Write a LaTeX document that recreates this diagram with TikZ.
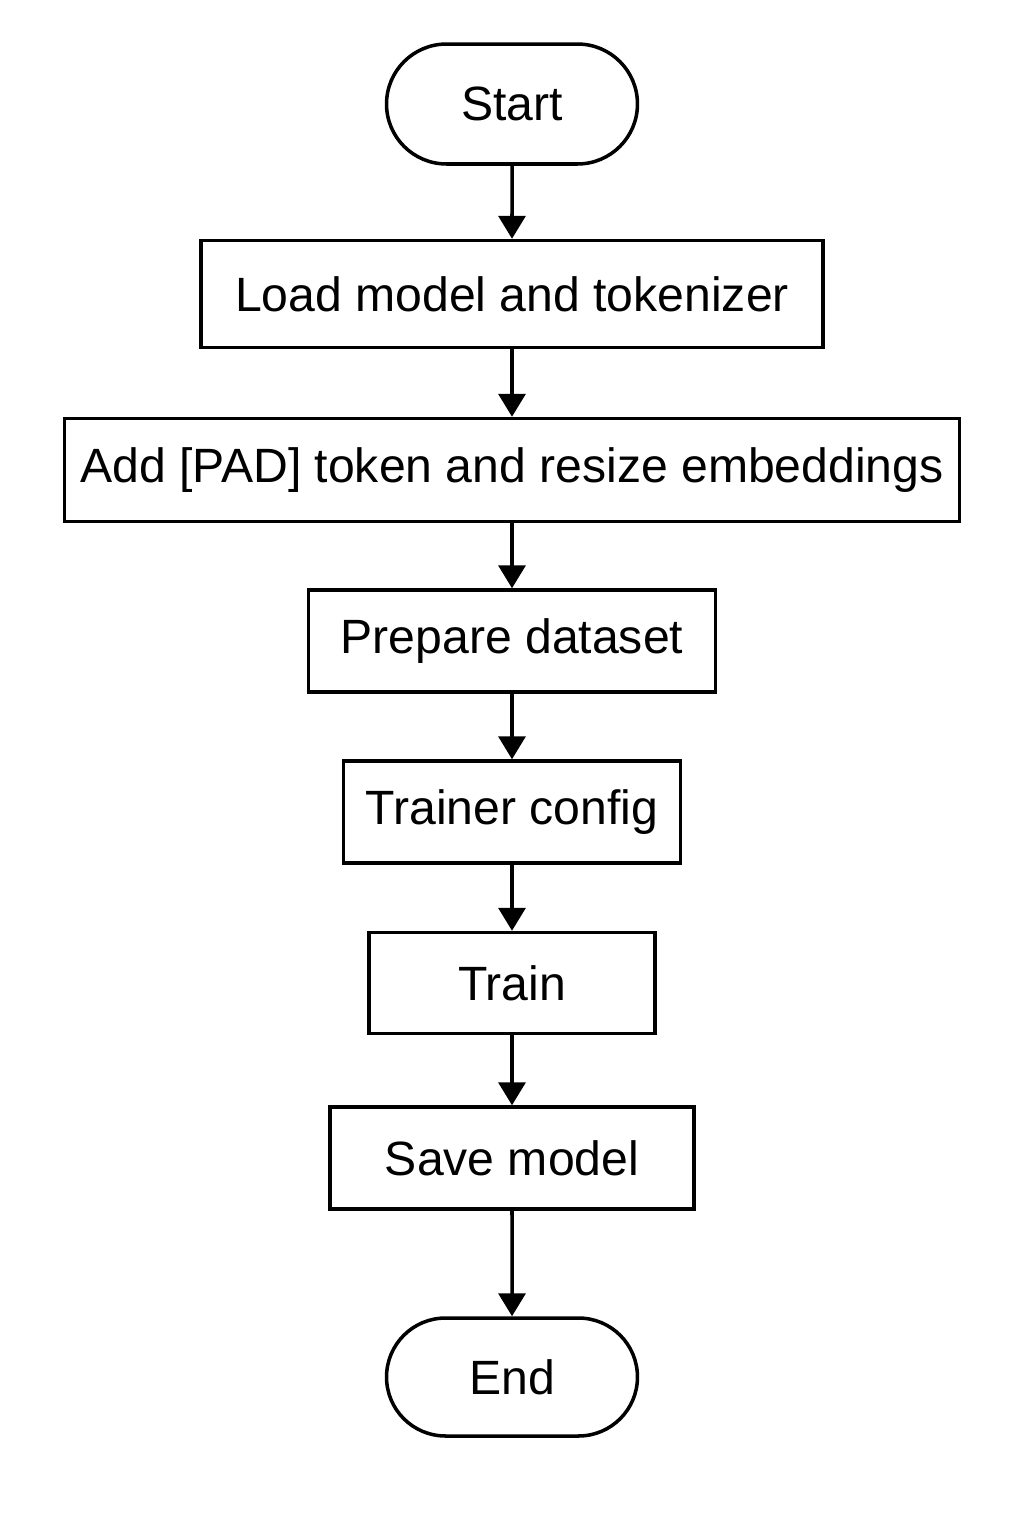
\documentclass[tikz,border=0pt]{standalone}
\usepackage{fontspec}
\setmainfont{Liberation Sans}
\usetikzlibrary{arrows.meta,shapes.misc}
\begin{document}
\begin{tikzpicture}[x=0.02cm,y=-0.02cm,
  every node/.style={font=\fontsize{27.4}{32}\selectfont},
  stepbox/.style={draw,line width=2pt,rectangle,inner sep=0pt},
  termbox/.style={draw,line width=2pt,rounded rectangle,inner sep=0pt,minimum width=5.02cm,minimum height=2.4cm},
  flow/.style={line width=2pt,-{Triangle[width=0.54cm,length=0.46cm]}}]
\useasboundingbox[fill=white] (0,0) rectangle (1024,1536);
\node[termbox] (start) at (512,104) {Start};
\node[stepbox,minimum width=12.44cm,minimum height=2.14cm] (load) at (512,294) {Load model and tokenizer};
\node[stepbox,minimum width=17.9cm,minimum height=2.06cm] (pad) at (512,470) {Add [PAD] token and resize embeddings};
\node[stepbox,minimum width=8.14cm,minimum height=2.04cm] (data) at (512,641) {Prepare dataset};
\node[stepbox,minimum width=6.74cm,minimum height=2.04cm] (config) at (512,812) {Trainer config};
\node[stepbox,minimum width=5.72cm,minimum height=2.02cm] (train) at (512,983) {Train};
\node[stepbox,minimum width=7.28cm,minimum height=2.04cm] (save) at (512,1158) {Save model};
\node[termbox,minimum height=2.36cm] (end) at (512,1377) {End};
\draw[flow] (start) -- (load);
\draw[flow] (load) -- (pad);
\draw[flow] (pad) -- (data);
\draw[flow] (data) -- (config);
\draw[flow] (config) -- (train);
\draw[flow] (train) -- (save);
\draw[flow] (save) -- (end);
\end{tikzpicture}
\end{document}
